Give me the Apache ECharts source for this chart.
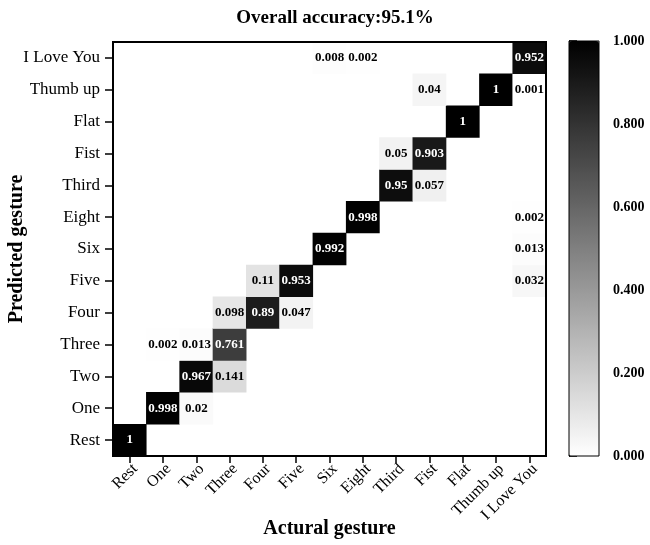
<!DOCTYPE html>
<html>
<head>
<meta charset="utf-8">
<script src="https://cdn.jsdelivr.net/npm/echarts@6/dist/echarts.min.js"></script>
<style>
  html, body { margin: 0; padding: 0; background: #fff; }
  #chart { width: 650px; height: 545px; }
</style>
</head>
<body>
<div id="chart"></div>
<script>
// gestures, same order on both axes (actual = x, predicted = y)
var gestures = ["Rest", "One", "Two", "Three", "Four", "Five", "Six", "Eight", "Third", "Fist", "Flat", "Thumb up", "I Love You"];

// non-zero cells: [actual index, predicted index, value]
var cells = [
  [0, 0, 1],
  [1, 1, 0.998], [2, 1, 0.02],
  [2, 2, 0.967], [3, 2, 0.141],
  [1, 3, 0.002], [2, 3, 0.013], [3, 3, 0.761],
  [3, 4, 0.098], [4, 4, 0.89], [5, 4, 0.047],
  [4, 5, 0.11], [5, 5, 0.953], [12, 5, 0.032],
  [6, 6, 0.992], [12, 6, 0.013],
  [7, 7, 0.998], [12, 7, 0.002],
  [8, 8, 0.95], [9, 8, 0.057],
  [8, 9, 0.05], [9, 9, 0.903],
  [10, 10, 1],
  [9, 11, 0.04], [11, 11, 1], [12, 11, 0.001],
  [6, 12, 0.008], [7, 12, 0.002], [12, 12, 0.952]
];

var overallAcc = "95.1%";

var serif = "'Liberation Serif', 'Times New Roman', serif";
var xLabelSize = 16;

var chart = echarts.init(document.getElementById("chart"));

var data = cells.map(function (c) {
  return {
    value: c,
    label: { color: c[2] > 0.5 ? "#fff" : "#000" }
  };
});

// rotated x labels: end of each word sits a little to the right of its tick,
// like the original. centre-aligned text + padding pushes it there.
var ctx = document.createElement("canvas").getContext("2d");
ctx.font = xLabelSize + "px " + serif;
var shift = 11 * Math.SQRT2;
var xCats = gestures.map(function (g) {
  var w = ctx.measureText(g).width;
  return {
    value: g,
    textStyle: {
      align: "center",
      verticalAlign: "middle",
      padding: [shift, Math.max(0, w - shift), 0, 0]
    }
  };
});

var tickStyle = { color: "#000", width: 1.5 };

chart.setOption({
  animation: false,
  backgroundColor: "#fff",
  title: {
    text: "Overall accuracy:" + overallAcc,
    left: 330,
    textAlign: "center",
    top: 4,
    textStyle: { fontFamily: serif, fontWeight: "bold", fontSize: 19, color: "#000" }
  },
  grid: [
    { left: 113, right: 104, top: 42, bottom: 89, outerBoundsMode: "none", containLabel: false, show: true, borderColor: "#000", borderWidth: 2, backgroundColor: "transparent", z: 5 },
    { left: 569, width: 30, top: 41, height: 415, outerBoundsMode: "none", containLabel: false, show: true, borderColor: "#000", borderWidth: 1, backgroundColor: "transparent", z: 6 }
  ],
  xAxis: [
    {
      type: "category",
      gridIndex: 0,
      data: xCats,
      name: "Actural gesture",
      nameLocation: "middle",
      nameGap: 63,
      nameMoveOverlap: false,
      nameTextStyle: { fontFamily: serif, fontWeight: "bold", fontSize: 20, color: "#000", verticalAlign: "top" },
      axisLine: { show: true, lineStyle: { color: "#000", width: 2 } },
      axisTick: { show: true, alignWithLabel: true, length: 7, lineStyle: tickStyle },
      axisLabel: {
        rotate: 45, interval: 0, margin: 16,
        fontFamily: serif, fontSize: xLabelSize, color: "#000"
      },
      splitLine: { show: false }
    },
    { type: "value", gridIndex: 1, show: false }
  ],
  yAxis: [
    {
      type: "category",
      gridIndex: 0,
      data: gestures,
      name: "Predicted gesture",
      nameLocation: "middle",
      nameGap: 86,
      nameMoveOverlap: false,
      nameTextStyle: { fontFamily: serif, fontWeight: "bold", fontSize: 20, color: "#000" },
      axisLine: { show: true, lineStyle: { color: "#000", width: 2 } },
      axisTick: { show: true, alignWithLabel: true, length: 8, lineStyle: tickStyle },
      axisLabel: { interval: 0, margin: 13, fontFamily: serif, fontSize: 17, color: "#000" },
      splitLine: { show: false }
    },
    {
      type: "value",
      gridIndex: 1,
      position: "right",
      min: 0,
      max: 1,
      interval: 0.2,
      axisLine: { show: true, lineStyle: { color: "#000", width: 1 } },
      axisTick: { show: true, length: 8, lineStyle: { color: "#000", width: 1.5 } },
      axisLabel: {
        margin: 14,
        fontFamily: serif,
        fontWeight: "bold",
        fontSize: 14,
        color: "#000",
        formatter: function (v) { return v.toFixed(3); }
      },
      splitLine: { show: false }
    }
  ],
  visualMap: {
    type: "continuous",
    min: 0,
    max: 1,
    seriesIndex: 0,
    calculable: false,
    orient: "vertical",
    left: 569,
    top: 41,
    itemWidth: 30,
    itemHeight: 415,
    padding: 0,
    text: null,
    showLabel: false,
    inRange: { color: ["#ffffff", "#000000"] }
  },
  series: [
    {
      type: "heatmap",
      xAxisIndex: 0,
      yAxisIndex: 0,
      data: data,
      label: {
        show: true,
        fontFamily: serif,
        fontWeight: "bold",
        fontSize: 13,
        formatter: function (p) { return String(p.value[2]); }
      },
      emphasis: { disabled: true }
    }
  ]
});
</script>
</body>
</html>
